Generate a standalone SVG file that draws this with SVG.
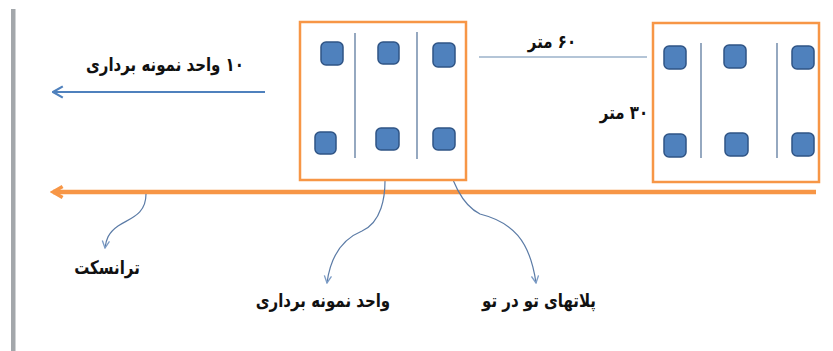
<svg xmlns="http://www.w3.org/2000/svg" width="833" height="351" viewBox="0 0 833 351">
<defs>
<style>
.box{fill:#fff;stroke:#F79646;stroke-width:2.5}
.div{stroke:#4F6F96;stroke-width:1.2}
.plot{fill:#4F81BD;stroke:#2F5485;stroke-width:1.5}
.lbl{font-family:"DejaVu Sans","Noto Sans",sans-serif;font-weight:bold;font-size:15px;fill:#111;text-anchor:middle;direction:rtl}
.conn{fill:none;stroke:#5B7BA6;stroke-width:1.2}
</style>
<marker id="vb" viewBox="0 0 10 10" refX="9" refY="5" markerWidth="9" markerHeight="9" markerUnits="userSpaceOnUse" orient="auto">
<path d="M1,1 L9,5 L1,9" fill="none" stroke="#7C9CC6" stroke-width="1.5"/>
</marker>
<marker id="vbig" viewBox="0 0 10 10" refX="9" refY="5" markerWidth="14" markerHeight="14" markerUnits="userSpaceOnUse" orient="auto">
<path d="M2,1 L9,5 L2,9" fill="none" stroke="#4F81BD" stroke-width="1.6"/>
</marker>
<marker id="vo" viewBox="0 0 10 10" refX="8" refY="5" markerWidth="16" markerHeight="16" markerUnits="userSpaceOnUse" orient="auto">
<path d="M2,1.5 L8,5 L2,8.5" fill="none" stroke="#F79646" stroke-width="2.2"/>
</marker>
</defs>
<rect width="833" height="351" fill="#fff"/>
<rect x="11" y="9" width="4.5" height="342" fill="#A3A7AB"/>

<g id="connectors">
<line x1="265" y1="92" x2="53" y2="92" stroke="#4F81BD" stroke-width="2.2" marker-end="url(#vbig)"/>
<line x1="816" y1="192" x2="53" y2="192" stroke="#F79646" stroke-width="4.5" marker-end="url(#vo)"/>
<line x1="479" y1="57" x2="647" y2="57" stroke="#6B8BB0" stroke-width="1.2"/>
<path class="conn" d="M146,194 C146,215 130,218 118,226 C108,233 106,240 105,248" marker-end="url(#vb)"/>
<path class="conn" d="M385,181 C385,196 382,222 362,231 C340,240 330,260 327,283" marker-end="url(#vb)"/>
<path class="conn" d="M446,152 C450,180 462,205 480,214 C512,222 530,240 536,283" marker-end="url(#vb)"/>
</g>

<g id="unit-left">
<rect class="box" x="300" y="22" width="166" height="158"/>
<line class="div" x1="355" y1="33" x2="355" y2="158"/>
<line class="div" x1="417" y1="32" x2="417" y2="159"/>
<rect class="plot" x="321" y="42" width="22" height="23" rx="5"/>
<rect class="plot" x="378" y="42" width="21" height="22" rx="5"/>
<rect class="plot" x="433" y="43" width="22" height="24" rx="5"/>
<rect class="plot" x="315" y="132" width="21" height="22" rx="5"/>
<rect class="plot" x="376" y="128" width="23" height="22" rx="5"/>
<rect class="plot" x="433" y="128" width="22" height="22" rx="5"/>
</g>

<g id="unit-right">
<rect class="box" x="653" y="23" width="166" height="159"/>
<line class="div" x1="701" y1="43" x2="701" y2="158"/>
<line class="div" x1="777" y1="43" x2="777" y2="158"/>
<rect class="plot" x="664" y="46" width="22" height="23" rx="5"/>
<rect class="plot" x="724" y="45" width="22" height="23" rx="5"/>
<rect class="plot" x="792" y="46" width="22" height="23" rx="5"/>
<rect class="plot" x="664" y="134" width="22" height="23" rx="5"/>
<rect class="plot" x="725" y="133" width="23" height="23" rx="5"/>
<rect class="plot" x="792" y="133" width="22" height="23" rx="5"/>
</g>

<g id="labels">
<text class="lbl" transform="translate(165,71) scale(1,1.25)">۱۰ واحد نمونه برداری</text>
<text class="lbl" transform="translate(552,48) scale(1,1.25)">۶۰ متر</text>
<text class="lbl" transform="translate(624,119) scale(1,1.25)">۳۰ متر</text>
<text class="lbl" transform="translate(107,274) scale(1,1.25)">ترانسکت</text>
<text class="lbl" transform="translate(323,307) scale(1,1.25)">واحد نمونه برداری</text>
<text class="lbl" transform="translate(539,307) scale(1,1.25)">پلاتهای تو در تو</text>
</g>
</svg>
